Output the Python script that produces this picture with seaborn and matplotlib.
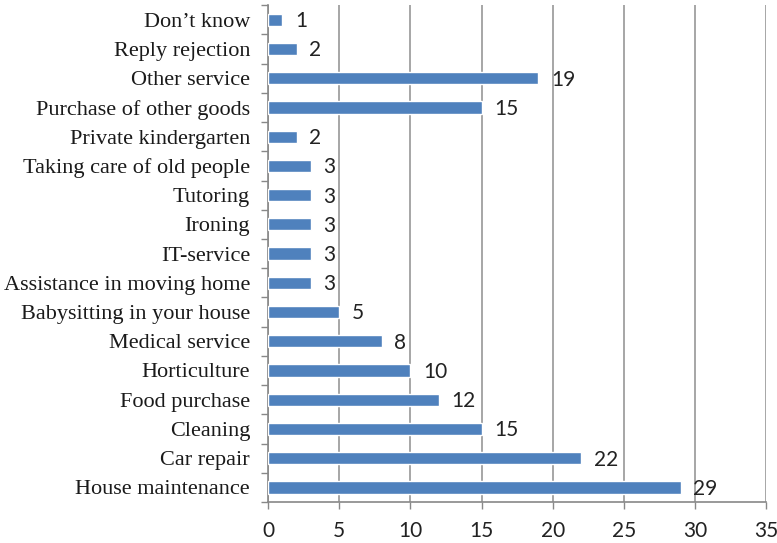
import matplotlib
matplotlib.use("Agg")
import matplotlib.pyplot as plt
import seaborn as sns
import pandas as pd

categories = [
    "Don’t know",
    "Reply rejection",
    "Other service",
    "Purchase of other goods",
    "Private kindergarten",
    "Taking care of old people",
    "Tutoring",
    "Ironing",
    "IT-service",
    "Assistance in moving home",
    "Babysitting in your house",
    "Medical service",
    "Horticulture",
    "Food purchase",
    "Cleaning",
    "Car repair",
    "House maintenance",
]
counts = [1, 2, 19, 15, 2, 3, 3, 3, 3, 3, 5, 8, 10, 12, 15, 22, 29]
x_ticks = [0, 5, 10, 15, 20, 25, 30, 35]

df = pd.DataFrame({"category": categories, "count": counts})

sns.set_theme(style="white")
plt.rcParams["font.family"] = ["Lato", "DejaVu Sans"]

fig = plt.figure(figsize=(7.77, 5.43), dpi=100)
ax = fig.add_axes([0.345, 0.0755, 0.641, 0.915])

sns.barplot(data=df, x="count", y="category", orient="h",
            color="#4F81BD", saturation=1, width=0.42, ax=ax, zorder=3)

ax.set_xlim(0, 35)
ax.set_ylim(len(categories) - 0.5, -0.5)
ax.set_xticks(x_ticks)
ax.set_xticklabels([str(t) for t in x_ticks], fontsize=15, color="#222222")

# vertical gridlines
ax.xaxis.grid(True, color="#A6A6A6", linewidth=1.4, zorder=0)
ax.yaxis.grid(False)

# category labels in a serif face
ax.set_yticks(range(len(categories)))
ax.set_yticklabels(categories, family=["Liberation Serif", "DejaVu Serif"],
                   fontsize=16, color="#1a1a1a")
ax.set_xlabel("")
ax.set_ylabel("")

# ticks between categories on the left axis
ax.set_yticks([i + 0.5 for i in range(-1, len(categories))], minor=True)
ax.tick_params(axis="y", which="major", length=0, pad=13)
ax.tick_params(axis="y", which="minor", length=5, color="#888888", width=1, left=True)
ax.tick_params(axis="x", which="major", length=5, color="#888888", width=1,
               bottom=True, pad=9)

for side in ["top", "right"]:
    ax.spines[side].set_visible(False)
for side in ["left", "bottom"]:
    ax.spines[side].set_color("#888888")
    ax.spines[side].set_linewidth(1.2)

# value labels
for i, v in enumerate(counts):
    ax.annotate(str(v), xy=(v, i), xytext=(9, -1), textcoords="offset points",
                ha="left", va="center", fontsize=15, color="#222222")

fig.savefig("out.png", dpi=100)
